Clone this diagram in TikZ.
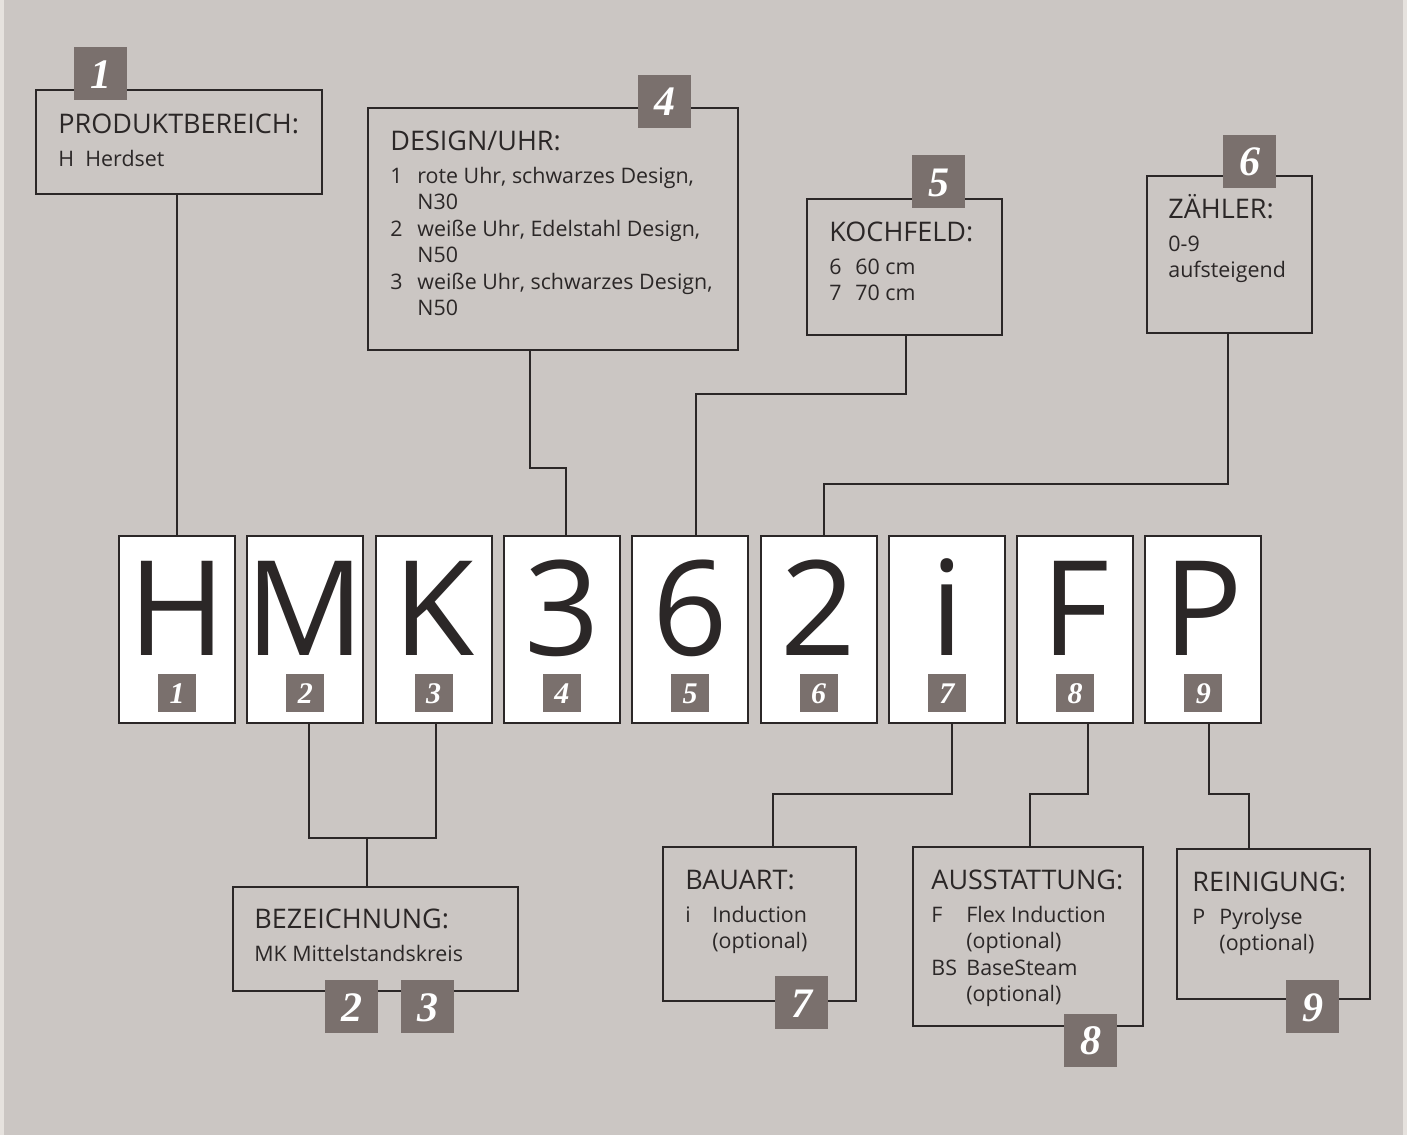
\documentclass[tikz,border=0pt]{standalone}
\usepackage{fontspec}
\setmainfont{Open Sans}
\newfontfamily\badgefont{Liberation Serif}
\usetikzlibrary{positioning}
\definecolor{paper}{HTML}{CBC6C3}
\definecolor{paperedge}{HTML}{E6E2DE}
\definecolor{taupe}{HTML}{7A706D}
\definecolor{ink}{HTML}{2B2727}
\newcommand{\titlefont}{\fontsize{13.5}{16}\selectfont}
\newcommand{\boxhead}[1]{\multicolumn{2}{@{}l@{}}{\titlefont #1}\\[3.5pt]}
\tikzset{
  infobox/.style={rectangle, draw=ink, line width=1pt, anchor=north west, inner sep=0pt},
  infotext/.style={anchor=base west, inner sep=0pt, text=ink,
                   font=\fontsize{10.7}{13.2}\selectfont},
  bigbadge/.style={rectangle, draw=none, fill=taupe, text=white, minimum size=26.5pt,
                   inner sep=0pt, text height=14.5pt, text depth=0pt,
                   font=\badgefont\bfseries\itshape\fontsize{21}{21}\selectfont},
  smallbadge/.style={rectangle, draw=none, fill=taupe, text=white, minimum size=19pt,
                     inner sep=0pt, text height=10.5pt, text depth=0pt,
                     font=\badgefont\bfseries\itshape\fontsize{15}{15}\selectfont},
  bigchar/.style={draw=none, fill=none, inner sep=0pt, text=ink,
                  text height=47pt, text depth=0pt, font=\fontsize{66}{66}\selectfont},
  charbox/.style 2 args={rectangle, draw=ink, fill=white, line width=1pt, minimum width=58pt,
                  minimum height=93.5pt, inner sep=0pt,
                  label={[bigchar, yshift=10.75pt]center:#2},
                  label={[smallbadge, label distance=-25pt]below:#1}},
  conn/.style={draw=ink, line width=1pt},
}
\begin{document}
\begin{tikzpicture}[x=0.5pt, y=-0.5pt]
  \useasboundingbox (0,0) rectangle (1407,1135);
  \fill[paper] (0,0) rectangle (1407,1135);
  \fill[paperedge] (0,0) rectangle (4,1135);
  \fill[paperedge] (1403,0) rectangle (1407,1135);

  % type code
  \node[charbox={1}{H}] (cH) at (177,629.5) {};
  \node[charbox={2}{M}, right=5.15pt of cH] (cM) {};
  \node[charbox={3}{K}, right=5.15pt of cM] (cK) {};
  \node[charbox={4}{3}, right=5.15pt of cK] (c3) {};
  \node[charbox={5}{6}, right=5.15pt of c3] (c6) {};
  \node[charbox={6}{2}, right=5.15pt of c6] (c2) {};
  \node[charbox={7}{i}, right=5.15pt of c2] (cI) {};
  \node[charbox={8}{F}, right=5.15pt of cI] (cF) {};
  \node[charbox={9}{P}, right=5.15pt of cF] (cP) {};

  % upper boxes
  \node[infobox, minimum width=143pt, minimum height=52pt] (prod) at (35,89) {};
  \node[infotext] (prodtxt) at ([shift={(23,44)}]prod.north west)
    {\begin{tabular}[t]{@{}p{13.5pt}@{}l@{}}\boxhead{PRODUKTBEREICH:}
     H & Herdset\end{tabular}};
  \node[bigbadge] (n1) at (100.5,73.5) {1};

  \node[infobox, minimum width=185pt, minimum height=121pt] (design) at (367,107) {};
  \node[infotext] (designtxt) at ([shift={(23,43)}]design.north west)
    {\begin{tabular}[t]{@{}p{13.5pt}@{}l@{}}\boxhead{DESIGN/UHR:}
     1 & rote Uhr, schwarzes Design,\\
       & N30\\
     2 & weiße Uhr, Edelstahl Design,\\
       & N50\\
     3 & weiße Uhr, schwarzes Design,\\
       & N50\end{tabular}};
  \node[bigbadge] (n4) at (664.5,101) {4};

  \node[infobox, minimum width=97.5pt, minimum height=68pt] (koch) at (806,198) {};
  \node[infotext] (kochtxt) at ([shift={(23,43)}]koch.north west)
    {\begin{tabular}[t]{@{}p{13pt}@{}l@{}}\boxhead{KOCHFELD:}
     6 & 60 cm\\
     7 & 70 cm\end{tabular}};
  \node[bigbadge] (n5) at (938.5,181.5) {5};

  \node[infobox, minimum width=82.5pt, minimum height=78.5pt] (zaehler) at (1146,175) {};
  \node[infotext] (zaehlertxt) at ([shift={(22,43)}]zaehler.north west)
    {\begin{tabular}[t]{@{}l@{}l@{}}\boxhead{ZÄHLER:}
     & 0-9\\
     & aufsteigend\end{tabular}};
  \node[bigbadge] (n6) at (1249.5,161) {6};

  % lower boxes
  \node[infobox, minimum width=142.5pt, minimum height=52pt] (bez) at (232,886) {};
  \node[infotext] (beztxt) at ([shift={(22,42)}]bez.north west)
    {\begin{tabular}[t]{@{}l@{}l@{}}\boxhead{BEZEICHNUNG:}
     & MK Mittelstandskreis\end{tabular}};
  \node[bigbadge] (n2) at (351.5,1006.5) {2};
  \node[bigbadge] (n3) at (427.5,1006.5) {3};

  \node[infobox, minimum width=96.5pt, minimum height=77pt] (bauart) at (662,846) {};
  \node[infotext] (bauarttxt) at ([shift={(23,43)}]bauart.north west)
    {\begin{tabular}[t]{@{}p{13.5pt}@{}l@{}}\boxhead{BAUART:}
     i & Induction\\
       & (optional)\end{tabular}};
  \node[bigbadge] (n7) at (801.5,1002.5) {7};

  \node[infobox, minimum width=115pt, minimum height=89.5pt] (ausst) at (912,846) {};
  \node[infotext] (aussttxt) at ([shift={(19,43)}]ausst.north west)
    {\begin{tabular}[t]{@{}p{17.5pt}@{}l@{}}\boxhead{AUSSTATTUNG:}
     F  & Flex Induction\\
        & (optional)\\
     BS & BaseSteam\\
        & (optional)\end{tabular}};
  \node[bigbadge] (n8) at (1090.5,1040) {8};

  \node[infobox, minimum width=96.5pt, minimum height=75pt] (rein) at (1176,848) {};
  \node[infotext] (reintxt) at ([shift={(16,43)}]rein.north west)
    {\begin{tabular}[t]{@{}p{13.5pt}@{}l@{}}\boxhead{REINIGUNG:}
     P & Pyrolyse\\
       & (optional)\end{tabular}};
  \node[bigbadge] (n9) at (1312.5,1006.5) {9};

  % connectors
  \draw[conn] (prod.south -| cH.north) -- (cH.north);
  \draw[conn] ([shift={(-23,0)}]design.south) -- ++(0,117) -| ([shift={(4.5,0)}]c3.north);
  \draw[conn] ([shift={(1.5,0)}]koch.south) -- ++(0,58) -| ([shift={(6,0)}]c6.north);
  \draw[conn] ([shift={(-1.5,0)}]zaehler.south) -- ++(0,150) -| ([shift={(5.5,0)}]c2.north);
  \draw[conn] ([shift={(3.5,0)}]cM.south) -- ++(0,114) coordinate (mkjoin) -| ([shift={(2,0)}]cK.south);
  \draw[conn] ([shift={(-8.5,0)}]bez.north) -- ([shift={(-8.5,0)}]bez.north |- mkjoin);
  \draw[conn] ([shift={(5,0)}]cI.south) -- ++(0,70) -| ([shift={(13.5,0)}]bauart.north);
  \draw[conn] ([shift={(12.5,0)}]cF.south) -- ++(0,70) -| ([shift={(2,0)}]ausst.north);
  \draw[conn] ([shift={(6,0)}]cP.south) -- ++(0,70) -| ([shift={(-24.5,0)}]rein.north);
\end{tikzpicture}
\end{document}
